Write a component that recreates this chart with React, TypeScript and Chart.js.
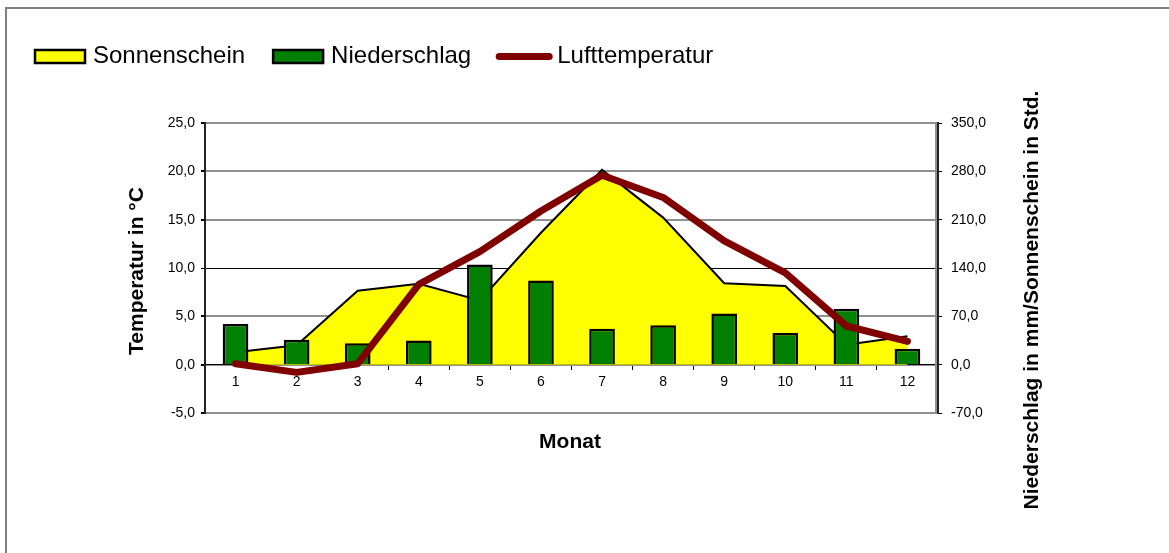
import React, { useEffect, useRef } from 'react';
import { Chart, registerables } from 'chart.js';

Chart.register(...registerables);

// ---- data ----
const months = ['1', '2', '3', '4', '5', '6', '7', '8', '9', '10', '11', '12'];
const sunshineHours = [18, 28, 107, 117, 93, 191, 282, 213, 118, 114, 29, 41];
const precipitationMm = [59, 36, 31, 35, 145, 122, 52, 57, 74, 46, 81, 23];
const airTemperature = [0.1, -0.8, 0.1, 8.3, 11.7, 15.9, 19.6, 17.3, 12.8, 9.5, 4.0, 2.4];

const seriesNames = ['Sonnenschein', 'Niederschlag', 'Lufttemperatur'];
const leftTitle = 'Temperatur in °C';
const rightTitle = 'Niederschlag in mm/Sonnenschein in Std.';
const xTitle = 'Monat';

const FONT = '"Liberation Sans", Arial, Helvetica, sans-serif';
const fmt = (v: number) => Number(v).toFixed(1).replace('.', ',');

const decorPlugin = {
  id: 'decor',
  beforeDraw(chart: any) {
    const { ctx, width, height } = chart;
    ctx.save();
    ctx.fillStyle = '#ffffff';
    ctx.fillRect(0, 0, width, height);
    ctx.strokeStyle = '#808080';
    ctx.lineWidth = 2;
    ctx.strokeRect(6, 8, width + 50, height + 50);
    ctx.restore();
  },
  beforeDatasetsDraw(chart: any) {
    const { ctx, chartArea } = chart;
    ctx.save();
    ctx.strokeStyle = '#909090';
    ctx.lineWidth = 2;
    ctx.beginPath();
    ctx.moveTo(chartArea.right - 2, chartArea.top);
    ctx.lineTo(chartArea.right - 2, chartArea.bottom);
    ctx.stroke();
    ctx.restore();
  },
  afterDraw(chart: any) {
    const { ctx } = chart;
    ctx.save();
    ctx.fillStyle = '#000';
    ctx.font = `bold 21px ${FONT}`;
    ctx.textAlign = 'center';
    ctx.textBaseline = 'middle';
    // x title
    ctx.fillText(xTitle, 570, 442);
    // left title
    ctx.save();
    ctx.translate(137, 271);
    ctx.rotate(-Math.PI / 2);
    ctx.fillText(leftTitle, 0, 0);
    ctx.restore();
    // right title
    ctx.save();
    ctx.translate(1032, 300);
    ctx.rotate(-Math.PI / 2);
    ctx.fillText(rightTitle, 0, 0);
    ctx.restore();

    // legend
    ctx.font = `24px ${FONT}`;
    ctx.textAlign = 'left';
    let x = 35;
    const cy = 56.5;
    chart.data.datasets.forEach((ds: any) => {
      if (ds.legendKind === 'line') {
        ctx.strokeStyle = ds.borderColor;
        ctx.lineWidth = 7;
        ctx.lineCap = 'round';
        ctx.beginPath();
        ctx.moveTo(x, cy);
        ctx.lineTo(x + 50, cy);
        ctx.stroke();
      } else {
        ctx.fillStyle = ds.backgroundColor;
        ctx.fillRect(x, 50, 50, 13);
        ctx.strokeStyle = '#000';
        ctx.lineWidth = 2.5;
        ctx.strokeRect(x, 50, 50, 13);
      }
      ctx.fillStyle = '#000';
      const tx = x + 58;
      ctx.fillText(ds.label, tx, cy);
      x = tx + ctx.measureText(ds.label).width + 28;
    });
    ctx.restore();
  },
};

export default function App() {
  const ref = useRef<HTMLCanvasElement | null>(null);

  useEffect(() => {
    document.body.style.margin = '0';
    if (!ref.current) return;
    const chart = new Chart(ref.current, {
      type: 'bar',
      data: {
        labels: months,
        datasets: [
          {
            type: 'line',
            label: seriesNames[0],
            data: sunshineHours,
            yAxisID: 'y1',
            fill: 'origin',
            backgroundColor: '#ffff00',
            borderColor: '#000000',
            borderWidth: 2,
            pointRadius: 0,
            tension: 0,
            order: 3,
            legendKind: 'box',
          } as any,
          {
            type: 'bar',
            label: seriesNames[1],
            data: precipitationMm,
            yAxisID: 'y1',
            backgroundColor: '#008000',
            borderColor: '#000000',
            borderWidth: 2.5,
            barPercentage: 0.42,
            categoryPercentage: 1,
            order: 2,
            legendKind: 'box',
          } as any,
          {
            type: 'line',
            label: seriesNames[2],
            data: airTemperature,
            yAxisID: 'y',
            fill: false,
            borderColor: '#800000',
            backgroundColor: '#800000',
            borderWidth: 7,
            borderCapStyle: 'round',
            borderJoinStyle: 'round',
            pointRadius: 0,
            tension: 0,
            order: 1,
            legendKind: 'line',
          } as any,
        ],
      },
      options: {
        responsive: false,
        animation: false,
        events: [],
        layout: { padding: { left: 0, right: 0, top: 123, bottom: 140 } },
        font: { family: FONT },
        plugins: {
          legend: { display: false },
          tooltip: { enabled: false },
          title: { display: false },
        },
        scales: {
          x: {
            type: 'category',
            position: { y: 0 } as any,
            offset: true,
            grid: {
              offset: true,
              drawOnChartArea: false,
              drawTicks: true,
              tickLength: 5,
              color: '#000',
              tickColor: '#000',
              lineWidth: 1,
            },
            border: { display: true, color: '#000', width: 1 },
            ticks: {
              color: '#000',
              font: { family: FONT, size: 14 },
              padding: 4,
              maxRotation: 0,
              autoSkip: false,
            },
            afterFit: (s: any) => {
              s.height = 0;
            },
          },
          y: {
            type: 'linear',
            position: 'left',
            min: -5,
            max: 25,
            ticks: {
              stepSize: 5,
              color: '#000',
              font: { family: FONT, size: 14 },
              padding: 6,
              callback: (v: any) => fmt(v),
            },
            grid: {
              color: (c: any) => (c.tick && c.tick.value === 10 ? '#000000' : '#909090'),
              lineWidth: (c: any) => (c.tick && c.tick.value === 10 ? 1 : 2),
              tickColor: '#000',
              tickLength: 4,
              drawTicks: true,
            },
            border: { display: true, color: '#222', width: 2 },
            afterFit: (s: any) => {
              s.width = 205;
            },
          },
          y1: {
            type: 'linear',
            position: 'right',
            min: -70,
            max: 350,
            ticks: {
              stepSize: 70,
              color: '#000',
              font: { family: FONT, size: 14 },
              padding: 9,
              callback: (v: any) => fmt(v),
            },
            grid: {
              drawOnChartArea: false,
              drawTicks: true,
              tickLength: 4,
              tickColor: '#000',
              color: '#000',
            },
            border: { display: true, color: '#222', width: 2 },
            afterFit: (s: any) => {
              s.width = 1169 - 938;
            },
          },
        },
      } as any,
      plugins: [decorPlugin],
    });
    return () => chart.destroy();
  }, []);

  return (
    <div style={{ width: 1169, height: 553 }}>
      <canvas ref={ref} width={1169} height={553} style={{ display: 'block' }} />
    </div>
  );
}
